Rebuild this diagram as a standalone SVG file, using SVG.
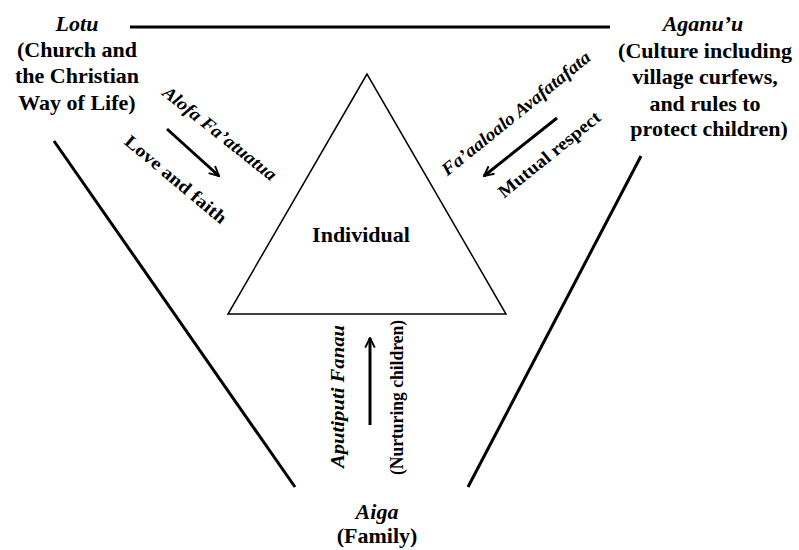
<svg xmlns="http://www.w3.org/2000/svg" width="799" height="550" viewBox="0 0 799 550" font-family="'Liberation Serif', 'DejaVu Serif', serif">
<defs>
<marker id="ah" viewBox="0 0 10 10" refX="9" refY="5" markerWidth="4" markerHeight="4" orient="auto" markerUnits="strokeWidth">
<polyline points="1,1 9,5 1,9" fill="none" stroke="#000" stroke-width="1.6" stroke-linejoin="miter"/>
</marker>
<style>
.lbl{font-size:22px;font-weight:bold;text-anchor:middle}
.it{font-style:italic}
.rot{font-size:18px;font-weight:bold;text-anchor:middle}
.frame{stroke:#000;stroke-width:3;fill:none}
.arr{stroke:#000;stroke-width:3;fill:none;marker-end:url(#ah)}
</style>
</defs>
<rect width="799" height="550" fill="#fff"/>
<g id="connectors">
<line class="frame" x1="130" y1="27" x2="610" y2="27"/>
<line class="frame" x1="54" y1="141" x2="295" y2="487"/>
<line class="frame" x1="641" y1="156" x2="468" y2="487"/>
<line class="arr" x1="167" y1="129" x2="219" y2="176"/>
<line class="arr" x1="557" y1="118" x2="484" y2="176"/>
<line class="arr" x1="370" y1="425" x2="370" y2="338"/>
</g>
<g id="individual">
<polygon points="367,74 228,314 506,314" fill="#fff" stroke="#000" stroke-width="1.5"/>
<text class="lbl" x="361" y="242">Individual</text>
</g>
<g id="lotu">
<text class="lbl it" x="77" y="31">Lotu</text>
<text class="lbl" x="77" y="57">(Church and</text>
<text class="lbl" x="77" y="83">the Christian</text>
<text class="lbl" x="77" y="110">Way of Life)</text>
</g>
<g id="aganuu">
<text class="lbl it" x="703" y="31">Aganu’u</text>
<text class="lbl" x="705" y="58">(Culture including</text>
<text class="lbl" x="705" y="84">village curfews,</text>
<text class="lbl" x="705" y="111">and rules to</text>
<text class="lbl" x="709" y="136">protect children)</text>
</g>
<g id="aiga">
<text class="lbl it" x="377" y="519">Aiga</text>
<text class="lbl" x="377" y="543">(Family)</text>
</g>
<g id="labels">
<text class="rot it" transform="translate(216,138) rotate(38.5)" textLength="140" lengthAdjust="spacingAndGlyphs">Alofa Fa’atuatua</text>
<text class="rot" transform="translate(172,184) rotate(40)" textLength="127" lengthAdjust="spacingAndGlyphs">Love and faith</text>
<text class="rot it" transform="translate(519.6,118) rotate(-39)" textLength="186" lengthAdjust="spacingAndGlyphs">Fa’aaloalo Avafatafata</text>
<text class="rot" transform="translate(553,159) rotate(-39)" textLength="126" lengthAdjust="spacingAndGlyphs">Mutual respect</text>
<text class="rot it" transform="translate(343.5,396.5) rotate(-90)" textLength="143" lengthAdjust="spacingAndGlyphs">Aputiputi Fanau</text>
<text class="rot" transform="translate(402.5,397.5) rotate(-90)" textLength="155" lengthAdjust="spacingAndGlyphs">(Nurturing children)</text>
</g>
</svg>
